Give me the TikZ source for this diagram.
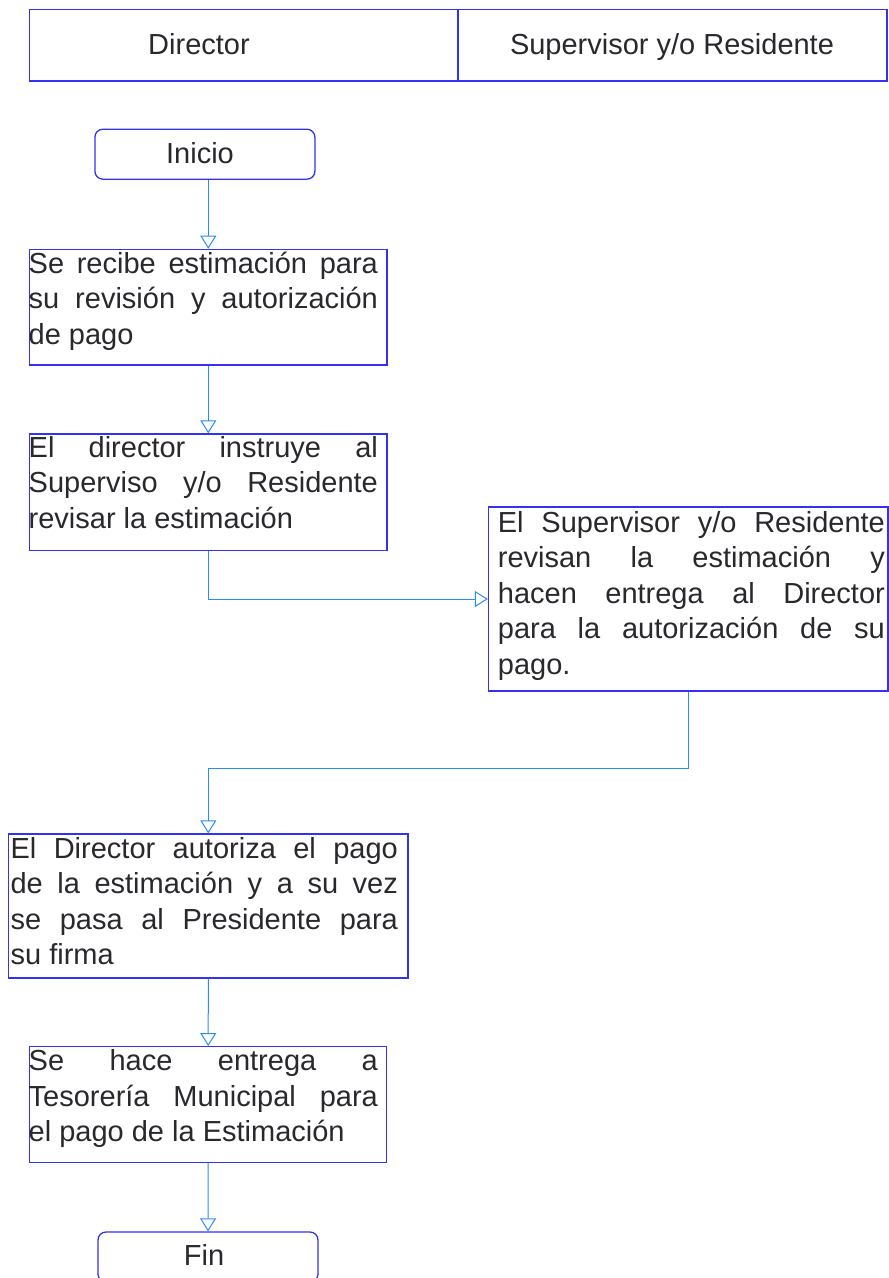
\documentclass[tikz,border=0pt]{standalone}
\usepackage{fontspec}
\setmainfont{Liberation Sans}
\usetikzlibrary{arrows.meta}
\definecolor{boxblue}{RGB}{50,50,245}
\definecolor{linkblue}{RGB}{40,140,255}
\definecolor{inkgray}{RGB}{40,40,45}
\tikzset{
  lane/.style={draw=boxblue, line width=1.3pt, inner sep=0pt, rectangle},
  stepbox/.style={draw=boxblue, line width=1.3pt, inner sep=0pt, rectangle},
  termbox/.style={draw=boxblue, line width=1.3pt, rounded corners=8pt, inner sep=0pt,
    minimum width=220pt, minimum height=50pt},
  labeltext/.style={inner sep=0pt, anchor=base, text=inkgray, font=\fontsize{29}{35.5}\selectfont},
  steptext/.style={inner sep=0pt, anchor=base west, align=justify, text=inkgray,
    font=\fontsize{29}{35.5}\selectfont},
  conn/.style={draw=linkblue, line width=1pt, -{Triangle[open, width=16pt, length=13pt]}},
}
\begin{document}
\hyphenpenalty=10000
\exhyphenpenalty=10000
\begin{tikzpicture}[x=1pt,y=-1pt]
\useasboundingbox (0,0) rectangle (889,1278);
\clip (0,0) rectangle (889,1278);
% header lanes
\node[lane, minimum width=428.5pt, minimum height=71.7pt] (h1) at (243.75,45.15) {};
\node[lane, minimum width=429pt, minimum height=71.7pt] (h2) at (672.5,45.15) {};
\node[labeltext] (h1t) at (199,54) {Director};
\node[labeltext] (h2t) at (672,54) {Supervisor y/o Residente};
% start
\node[termbox] (inicio) at (204.9,154.2) {};
\node[labeltext] (iniciot) at (200,163) {Inicio};
% steps
\node[stepbox, minimum width=357.3pt, minimum height=115.7pt] (b1) at (208.3,307.2) {};
\node[steptext, text width=349.2pt] (t1) at (28.5,273.3) {Se recibe estimación para\linebreak su revisión y autorización\linebreak de pago};
\node[stepbox, minimum width=357.3pt, minimum height=116.7pt] (b2) at (208.3,492.3) {};
\node[steptext, text width=349.2pt] (t2) at (28.5,457.3) {El director instruye al\linebreak Superviso y/o Residente\linebreak revisar la estimación};
\node[stepbox, minimum width=399.5pt, minimum height=184pt] (b3) at (688.3,599) {};
\node[steptext, text width=387pt] (t3) at (497.7,532) {El Supervisor y/o Residente\linebreak revisan la estimación y\linebreak hacen entrega al Director\linebreak para la autorización de su\linebreak pago.};
\node[stepbox, minimum width=399.5pt, minimum height=144pt] (b4) at (208.3,906) {};
\node[steptext, text width=387.3pt] (t4) at (10.4,858.3) {El Director autoriza el pago\linebreak de la estimación y a su vez\linebreak se pasa al Presidente para\linebreak su firma};
\node[stepbox, minimum width=357pt, minimum height=115.6pt] (b5) at (208.2,1104.5) {};
\node[steptext, text width=349.2pt] (t5) at (28.5,1070.7) {Se hace entrega a\linebreak Tesorería Municipal para\linebreak el pago de la Estimación};
% end
\node[termbox] (fin) at (208,1257) {};
\node[labeltext] (fint) at (204,1265.7) {Fin};
% connectors
\coordinate (k) at (688,768);
\draw[conn] (b1.north |- inicio.south) -- (b1.north);
\draw[conn] (b1.south) -- (b2.north);
\draw[conn] (b2.south) |- (b3.west);
\draw[conn] (b3.south) -- (b3.south |- k) -| (b4.north);
\draw[conn] (b4.south) -- (b5.north);
\draw[conn] (b5.south) -- (fin.north);
\end{tikzpicture}
\end{document}
